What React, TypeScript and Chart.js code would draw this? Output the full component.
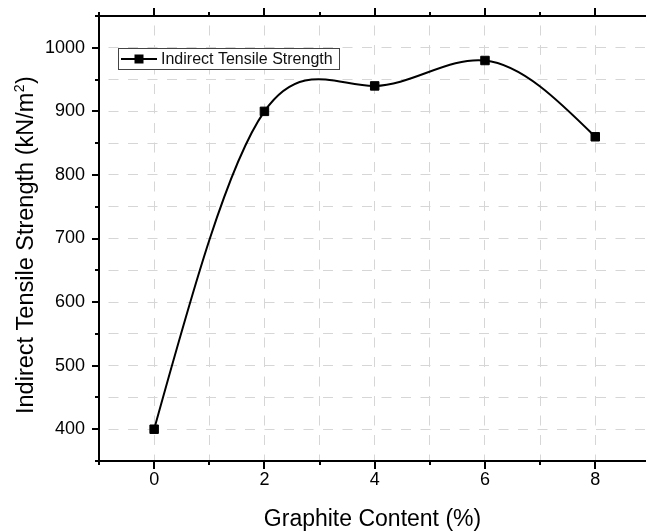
import React, { useEffect, useRef } from 'react';
import { Chart, registerables } from 'chart.js';

Chart.register(...registerables);

// Measured series
const graphiteContent = [0, 2, 4, 6, 8];
const tensileStrength = [400, 900, 940, 980, 860];

// Axis ticks (major ticks carry labels, minor ticks only marks + grid)
const xTickValues = [-1, 0, 1, 2, 3, 4, 5, 6, 7, 8];
const xLabelValues = [0, 2, 4, 6, 8];
const yTickValues = [350, 400, 450, 500, 550, 600, 650, 700, 750, 800, 850, 900, 950, 1000, 1050];
const yLabelValues = [400, 500, 600, 700, 800, 900, 1000];

const seriesName = 'Indirect Tensile Strength';
const xTitle = 'Graphite Content (%)';
const yTitleMain = 'Indirect Tensile Strength (kN/m';
const yTitleSup = '2';
const yTitleEnd = ')';

const FONT = '"Liberation Sans", Arial, sans-serif';

// Replace the default bezier control points with those of a natural cubic spline
const naturalSpline = {
  id: 'naturalSpline',
  beforeDatasetDraw(chart: any, args: any) {
    const meta = args.meta;
    const line = meta.dataset;
    if (!line) return;
    line.updateControlPoints(chart.chartArea, meta.iScale.axis);
    const pts = meta.data;
    const n = pts.length;
    if (n < 3) return;
    const xs = pts.map((p: any) => p.x);
    const ys = pts.map((p: any) => p.y);
    const h: number[] = [];
    for (let i = 0; i < n - 1; i++) h.push(xs[i + 1] - xs[i]);
    const a: number[] = [], b: number[] = [], c: number[] = [], d: number[] = [];
    for (let i = 1; i < n - 1; i++) {
      a.push(h[i - 1]);
      b.push(2 * (h[i - 1] + h[i]));
      c.push(h[i]);
      d.push(6 * ((ys[i + 1] - ys[i]) / h[i] - (ys[i] - ys[i - 1]) / h[i - 1]));
    }
    const m = b.length;
    for (let i = 1; i < m; i++) {
      const w = a[i] / b[i - 1];
      b[i] -= w * c[i - 1];
      d[i] -= w * d[i - 1];
    }
    const sol = new Array(m).fill(0);
    sol[m - 1] = d[m - 1] / b[m - 1];
    for (let i = m - 2; i >= 0; i--) sol[i] = (d[i] - c[i] * sol[i + 1]) / b[i];
    const M = new Array(n).fill(0);
    for (let i = 0; i < m; i++) M[i + 1] = sol[i];
    for (let i = 0; i < n - 1; i++) {
      const hi = h[i];
      const slope = (ys[i + 1] - ys[i]) / hi;
      const sL = slope - (hi * (2 * M[i] + M[i + 1])) / 6;
      const sR = slope + (hi * (M[i] + 2 * M[i + 1])) / 6;
      pts[i].cp2x = xs[i] + hi / 3;
      pts[i].cp2y = ys[i] + (sL * hi) / 3;
      pts[i + 1].cp1x = xs[i + 1] - hi / 3;
      pts[i + 1].cp1y = ys[i + 1] - (sR * hi) / 3;
    }
    line._path = undefined;
  },
};

// Axis frame, tick marks, axis titles and the boxed legend
const frame = {
  id: 'frame',
  afterDraw(chart: any) {
    const { ctx, chartArea, scales } = chart;
    const { left, right, top, bottom } = chartArea;
    const x = scales.x;
    const y = scales.y;
    ctx.save();
    ctx.strokeStyle = '#000';
    ctx.lineWidth = 2;
    ctx.lineCap = 'butt';
    ctx.beginPath();
    ctx.moveTo(left - 1, top);
    ctx.lineTo(right, top);
    ctx.moveTo(left, top);
    ctx.lineTo(left, bottom);
    ctx.moveTo(left - 1, bottom);
    ctx.lineTo(right, bottom);
    for (const v of xTickValues) {
      const px = Math.round(x.getPixelForValue(v));
      const len = xLabelValues.includes(v) ? 8 : 4;
      ctx.moveTo(px, bottom);
      ctx.lineTo(px, bottom + len);
      ctx.moveTo(px, top);
      ctx.lineTo(px, top - len);
    }
    for (const v of yTickValues) {
      const py = Math.round(y.getPixelForValue(v));
      const len = yLabelValues.includes(v) ? 7 : 4;
      ctx.moveTo(left, py);
      ctx.lineTo(left - len, py);
    }
    ctx.stroke();

    // axis titles
    ctx.fillStyle = '#000';
    ctx.font = `23px ${FONT}`;
    ctx.textAlign = 'center';
    ctx.textBaseline = 'alphabetic';
    ctx.fillText(xTitle, (left + right) / 2, 526);

    ctx.save();
    ctx.translate(33, 414);
    ctx.rotate(-Math.PI / 2);
    ctx.textAlign = 'left';
    ctx.font = `23.5px ${FONT}`;
    ctx.fillText(yTitleMain, 0, 0);
    const w1 = ctx.measureText(yTitleMain).width;
    ctx.font = `14px ${FONT}`;
    ctx.fillText(yTitleSup, w1 + 0.5, -9);
    const w2 = ctx.measureText(yTitleSup).width;
    ctx.font = `23.5px ${FONT}`;
    ctx.fillText(yTitleEnd, w1 + w2 + 1, 0);
    ctx.restore();

    // legend
    ctx.fillStyle = '#fff';
    ctx.fillRect(118.5, 48.5, 221, 21);
    ctx.strokeStyle = '#444';
    ctx.lineWidth = 1;
    ctx.strokeRect(118.5, 48.5, 221, 21);
    ctx.strokeStyle = '#000';
    ctx.lineWidth = 2;
    ctx.beginPath();
    ctx.moveTo(121, 59);
    ctx.lineTo(157, 59);
    ctx.stroke();
    ctx.fillStyle = '#000';
    ctx.fillRect(134.5, 54.5, 9, 9);
    ctx.font = `16px ${FONT}`;
    ctx.textAlign = 'left';
    ctx.textBaseline = 'middle';
    ctx.fillStyle = '#111';
    ctx.fillText(seriesName, 161, 59.5);
    ctx.restore();
  },
};

const noScalePadding = (s: any) => {
  s.paddingTop = 0;
  s.paddingBottom = 0;
  s.paddingLeft = 0;
  s.paddingRight = 0;
};

export default function App() {
  const canvasRef = useRef<HTMLCanvasElement>(null);

  useEffect(() => {
    const canvas = canvasRef.current;
    if (!canvas) return;
    const chart = new Chart(canvas, {
      type: 'line',
      data: {
        datasets: [
          {
            label: seriesName,
            data: graphiteContent.map((gx, i) => ({ x: gx, y: tensileStrength[i] })),
            borderColor: '#000',
            borderWidth: 2,
            tension: 0.4,
            pointStyle: 'rect',
            pointRadius: 6,
            pointBackgroundColor: '#000',
            pointBorderColor: '#000',
            pointBorderWidth: 1,
            fill: false,
          },
        ],
      },
      options: {
        responsive: false,
        animation: false,
        devicePixelRatio: 1,
        layout: { autoPadding: false, padding: { top: 16, right: 0, left: 0, bottom: 0 } },
        plugins: {
          legend: { display: false },
          tooltip: { enabled: false },
        },
        scales: {
          x: {
            type: 'linear',
            min: -1,
            max: 8.92,
            afterBuildTicks: (s: any) => {
              s.ticks = xTickValues.map((v) => ({ value: v }));
            },
            afterFit: (s: any) => {
              s.height = 71;
              noScalePadding(s);
            },
            ticks: {
              autoSkip: false,
              maxRotation: 0,
              padding: 8,
              color: '#000',
              font: { family: FONT, size: 18 },
              callback: (v: any) => (xLabelValues.includes(Number(v)) ? String(v) : ''),
            },
            grid: { color: '#d6d6d6', lineWidth: 1, drawTicks: false },
            border: { display: false, dash: [10, 9.5], dashOffset: 10 },
          },
          y: {
            type: 'linear',
            min: 350,
            max: 1050,
            afterBuildTicks: (s: any) => {
              s.ticks = yTickValues.map((v) => ({ value: v }));
            },
            afterFit: (s: any) => {
              s.width = 99;
              noScalePadding(s);
            },
            ticks: {
              autoSkip: false,
              padding: 14,
              color: '#000',
              font: { family: FONT, size: 18 },
              callback: (v: any) => (yLabelValues.includes(Number(v)) ? String(v) : ''),
            },
            grid: { color: '#d6d6d6', lineWidth: 1, drawTicks: false },
            border: { display: false, dash: [10, 9.5], dashOffset: 10 },
          },
        },
      },
      plugins: [naturalSpline, frame],
    });
    return () => chart.destroy();
  }, []);

  return (
    <div style={{ position: 'absolute', left: 0, top: 0, width: 646, height: 532, background: '#fff' }}>
      <canvas ref={canvasRef} width={646} height={532} style={{ display: 'block', width: 646, height: 532 }} />
    </div>
  );
}
